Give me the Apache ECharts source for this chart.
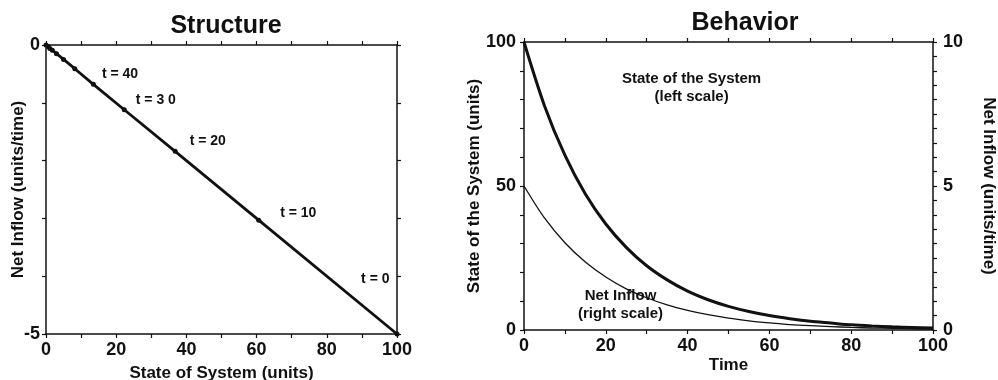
<!DOCTYPE html>
<html>
<head>
<meta charset="utf-8">
<script src="https://cdn.jsdelivr.net/npm/echarts@6/dist/echarts.min.js"></script>
<style>
  html, body { margin: 0; padding: 0; background: #fff; }
  #chart { width: 998px; height: 380px; }
</style>
</head>
<body>
<div id="chart"></div>
<script>
  // Structure panel: state vs net inflow, dots every 10 time units
  var structTimes = [0, 10, 20, 30, 40, 50, 60, 70, 80, 90, 100];
  var structState = [100, 60.6, 36.8, 22.3, 13.5, 8.2, 5.0, 3.0, 1.8, 1.1, 0.7];
  var structInflow = [-5, -3.03, -1.84, -1.12, -0.68, -0.41, -0.25, -0.15, -0.09, -0.06, -0.03];
  var structLabels = {0: 't = 0', 10: 't = 10', 20: 't = 20', 30: 't = 3 0', 40: 't = 40'};

  var behTime = [0, 5, 10, 15, 20, 25, 30, 35, 40, 45, 50, 55, 60, 65, 70, 75, 80, 85, 90, 95, 100];
  var behState = [100, 77.9, 60.7, 47.2, 36.8, 28.7, 22.3, 17.4, 13.5, 10.5, 8.2, 6.4, 5.0, 3.9, 3.0, 2.4, 1.8, 1.4, 1.1, 0.9, 0.7];
  var behInflow = [5, 3.89, 3.03, 2.36, 1.84, 1.43, 1.12, 0.87, 0.68, 0.53, 0.41, 0.32, 0.25, 0.19, 0.15, 0.12, 0.09, 0.07, 0.06, 0.04, 0.03];

  var FONT = "'Liberation Sans', Arial, sans-serif";
  var INK = '#111';

  // label offsets for the t = .. notes (position, offset)
  var labelPos = {
    0: ['left', [0, -55]],
    10: ['right', [14, -7]],
    20: ['right', [7, -10]],
    30: ['right', [4, -10]],
    40: ['right', [1, -10]]
  };

  var structData = [[0, 0]];
  for (var i = structTimes.length - 1; i >= 0; i--) {
    var item = { value: [structState[i], structInflow[i]] };
    var t = structTimes[i];
    if (structLabels[t]) {
      item.label = {
        show: true,
        formatter: structLabels[t],
        position: labelPos[t][0],
        offset: labelPos[t][1],
        fontFamily: FONT, fontWeight: 'bold', fontSize: 14, color: INK
      };
    }
    structData.push(item);
  }

  var stateData = behTime.map(function (t, i) { return [t, behState[i]]; });
  var inflowData = behTime.map(function (t, i) { return [t, behInflow[i]]; });

  var axisLine = { show: true, onZero: false, lineStyle: { color: INK, width: 1.5 } };
  var tick = { show: true, length: 4, lineStyle: { color: INK, width: 1.2 } };
  var tickLbl = { fontFamily: FONT, fontWeight: 'bold', fontSize: 18, color: INK };
  var nameStyle = { fontFamily: FONT, fontWeight: 'bold', fontSize: 17, color: INK };

  function every20(v) { return v % 20 === 0 ? String(v) : ''; }

  var option = {
    backgroundColor: '#fff',
    animation: false,
    title: [
      { text: 'Structure', left: 221, top: 9, textAlign: 'center',
        textStyle: { fontFamily: FONT, fontWeight: 'bold', fontSize: 25, color: INK } },
      { text: 'Behavior', left: 740, top: 6, textAlign: 'center',
        textStyle: { fontFamily: FONT, fontWeight: 'bold', fontSize: 25, color: INK } }
    ],
    grid: [
      { left: 46, right: 601, top: 45, bottom: 46, outerBoundsMode: 'none', containLabel: false },
      { left: 524, right: 65, top: 42, bottom: 50, outerBoundsMode: 'none', containLabel: false }
    ],
    xAxis: [
      { gridIndex: 0, type: 'value', min: 0, max: 100, interval: 10, position: 'bottom',
        axisLine: axisLine, axisTick: tick, splitLine: { show: false },
        axisLabel: Object.assign({ margin: 7, formatter: every20 }, tickLbl),
        name: 'State of System (units)', nameLocation: 'middle', nameGap: 31, nameMoveOverlap: false, nameTextStyle: nameStyle },
      { gridIndex: 0, type: 'value', min: 0, max: 100, interval: 10, position: 'top',
        axisLine: axisLine, axisTick: tick, splitLine: { show: false }, axisLabel: { show: false } },
      { gridIndex: 1, type: 'value', min: 0, max: 100, interval: 10, position: 'bottom',
        axisLine: axisLine, axisTick: tick, splitLine: { show: false },
        axisLabel: Object.assign({ margin: 7, formatter: every20 }, tickLbl),
        name: 'Time', nameLocation: 'middle', nameGap: 27, nameMoveOverlap: false, nameTextStyle: nameStyle },
      { gridIndex: 1, type: 'value', min: 0, max: 100, interval: 10, position: 'top',
        axisLine: axisLine, axisTick: tick, splitLine: { show: false }, axisLabel: { show: false } }
    ],
    yAxis: [
      { gridIndex: 0, type: 'value', min: -5, max: 0, interval: 1, position: 'left',
        axisLine: axisLine, axisTick: tick, splitLine: { show: false },
        axisLabel: Object.assign({ margin: 6, formatter: function (v) { return (v === 0 || v === -5) ? String(v) : ''; } }, tickLbl),
        name: 'Net Inflow (units/time)', nameLocation: 'middle', nameGap: 19, nameRotate: 90, nameMoveOverlap: false, nameTextStyle: nameStyle },
      { gridIndex: 0, type: 'value', min: -5, max: 0, interval: 1, position: 'right',
        axisLine: axisLine, axisTick: tick, splitLine: { show: false }, axisLabel: { show: false } },
      { gridIndex: 1, type: 'value', min: 0, max: 100, interval: 10, position: 'left',
        axisLine: axisLine, axisTick: tick, splitLine: { show: false },
        axisLabel: Object.assign({ margin: 8, formatter: function (v) { return v % 50 === 0 ? String(v) : ''; } }, tickLbl),
        name: 'State of the System (units)', nameLocation: 'middle', nameGap: 41, nameRotate: 90, nameMoveOverlap: false, nameTextStyle: nameStyle },
      { gridIndex: 1, type: 'value', min: 0, max: 10, interval: 0.5, position: 'right',
        axisLine: axisLine, axisTick: tick, splitLine: { show: false },
        axisLabel: Object.assign({ margin: 10, formatter: function (v) { return v % 5 === 0 ? String(v) : ''; } }, tickLbl),
        name: 'Net Inflow (units/time)', nameLocation: 'middle', nameGap: 47, nameRotate: -90, nameMoveOverlap: false, nameTextStyle: nameStyle }
    ],
    series: [
      { type: 'line', xAxisIndex: 0, yAxisIndex: 0, data: structData,
        symbol: 'circle', symbolSize: 5, showAllSymbol: true,
        itemStyle: { color: INK }, lineStyle: { color: INK, width: 2.8 } },
      { type: 'line', xAxisIndex: 2, yAxisIndex: 2, data: stateData, smooth: 0.3,
        showSymbol: false, lineStyle: { color: INK, width: 3 } },
      { type: 'line', xAxisIndex: 2, yAxisIndex: 3, data: inflowData, smooth: 0.3,
        showSymbol: false, lineStyle: { color: INK, width: 1.3 } }
    ],
    graphic: [
      { type: 'text', left: 622, top: 70, style: { text: 'State of the System\n(left scale)', textAlign: 'center',
        font: 'bold 15px ' + FONT, fill: INK, lineHeight: 18 } },
      { type: 'text', left: 578, top: 287, style: { text: 'Net Inflow\n(right scale)', textAlign: 'center',
        font: 'bold 15px ' + FONT, fill: INK, lineHeight: 18 } }
    ]
  };

  var chart = echarts.init(document.getElementById('chart'));
  chart.setOption(option);
  window.addEventListener('resize', function () { chart.resize(); });
</script>
</body>
</html>
